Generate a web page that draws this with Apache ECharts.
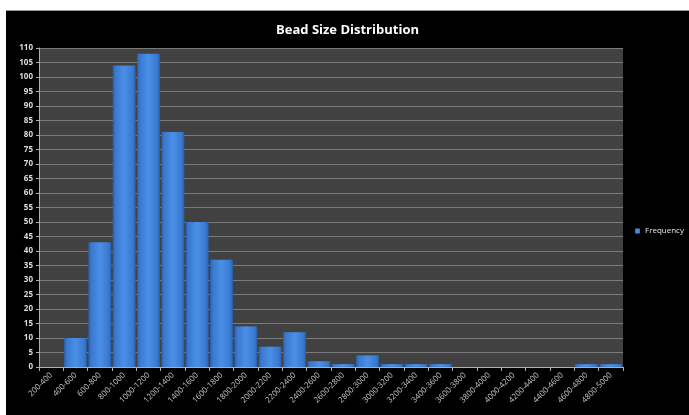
<!DOCTYPE html>
<html>
<head>
<meta charset="utf-8">
<script src="https://cdn.jsdelivr.net/npm/echarts@6/dist/echarts.min.js"></script>
<style>
  html, body { margin: 0; padding: 0; background: #ffffff; width: 689px; height: 415px; overflow: hidden; }
  #chart { position: absolute; left: 6px; top: 10px; width: 683px; height: 405px; background: #000000; border-top: 1px solid #9a9a9a; box-sizing: border-box; }
</style>
</head>
<body>
<div id="chart"></div>
<script>
// Bead size bins (in size units) and how many beads fell into each
const sizeBins = [
  '200-400', '400-600', '600-800', '800-1000', '1000-1200', '1200-1400',
  '1400-1600', '1600-1800', '1800-2000', '2000-2200', '2200-2400', '2400-2600',
  '2600-2800', '2800-3000', '3000-3200', '3200-3400', '3400-3600', '3600-3800',
  '3800-4000', '4000-4200', '4200-4400', '4400-4600', '4600-4800', '4800-5000'
];
const frequency = [
  0, 10, 43, 104, 108, 81,
  50, 37, 14, 7, 12, 2,
  1, 4, 1, 1, 1, 0,
  0, 0, 0, 0, 1, 1
];
const yTicks = { min: 0, max: 110, interval: 5 };

const chart = echarts.init(document.getElementById('chart'), null, { renderer: 'canvas' });

// Bars shade darker toward their left and right edges
const barFill = new echarts.graphic.LinearGradient(0, 0, 1, 0, [
  { offset: 0, color: '#2a5ea8' },
  { offset: 0.12, color: '#3a79d0' },
  { offset: 0.5, color: '#4a8fe6' },
  { offset: 0.88, color: '#3a79d0' },
  { offset: 1, color: '#2a5ea8' }
]);

chart.setOption({
  backgroundColor: '#000000',
  animation: false,
  title: {
    text: 'Bead Size Distribution',
    left: 'center',
    top: 8,
    textStyle: { color: '#ffffff', fontSize: 13, fontWeight: 'bold', fontFamily: 'Open Sans' }
  },
  legend: {
    data: ['Frequency'],
    orient: 'vertical',
    left: 624,
    top: 211,
    itemWidth: 5,
    itemHeight: 5,
    itemGap: 4,
    icon: 'rect',
    textStyle: { color: '#e8e8e8', fontSize: 8, fontFamily: 'Open Sans' }
  },
  grid: { left: 33, top: 37, right: 66, bottom: 48, containLabel: false,
          show: true, backgroundColor: '#414141', borderWidth: 0 },
  xAxis: {
    type: 'category',
    data: sizeBins,
    boundaryGap: true,
    axisLine: { show: true, lineStyle: { color: '#b0b0b0', width: 1 } },
    axisTick: { show: true, alignWithLabel: false, length: 4, lineStyle: { color: '#b0b0b0' } },
    axisLabel: {
      interval: 0, rotate: 45, color: '#c4c4c4', fontSize: 8,
      fontFamily: 'Open Sans', margin: 7
    }
  },
  yAxis: {
    type: 'value',
    min: yTicks.min, max: yTicks.max, interval: yTicks.interval,
    axisLine: { show: true, lineStyle: { color: '#b0b0b0', width: 1 } },
    axisTick: { show: true, length: 3, lineStyle: { color: '#b0b0b0' } },
    axisLabel: { color: '#dcdcdc', fontSize: 8, fontWeight: 'bold', fontFamily: 'Open Sans', margin: 6 },
    splitLine: { show: true, lineStyle: { color: '#7a7a7a', width: 1 } }
  },
  series: [{
    name: 'Frequency',
    type: 'bar',
    data: frequency,
    barCategoryGap: '6%',
    itemStyle: { color: barFill, borderWidth: 0 },
    emphasis: { disabled: true }
  }]
});
</script>
</body>
</html>
